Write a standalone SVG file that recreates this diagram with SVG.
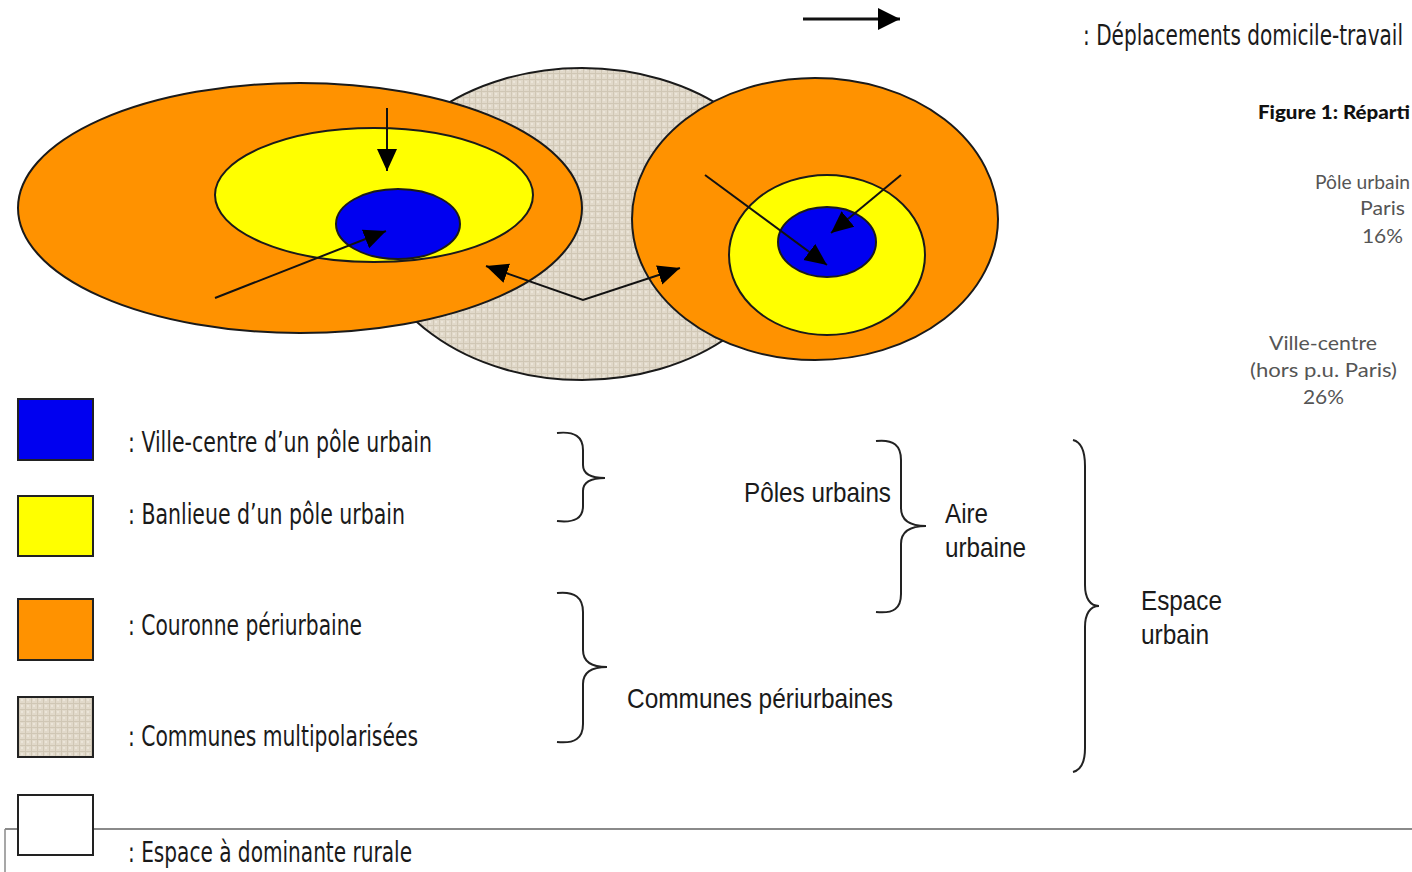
<svg xmlns="http://www.w3.org/2000/svg" width="1412" height="872" viewBox="0 0 1412 872">
<style>
.zone{stroke:#1a1a1a;stroke-width:2}
.or{fill:#ff9200}
.ye{fill:#ffff00}
.bl{fill:#0000f0}
.be{fill:url(#tex)}
.arr{fill:none;stroke:#111;stroke-width:2;marker-end:url(#ah)}
.brace{fill:none;stroke:#222;stroke-width:2}
.leg{font-family:"DejaVu Sans Condensed","Liberation Sans Narrow","DejaVu Sans",sans-serif;font-size:28px;fill:#1a1a1a}
.lab{font-family:"Liberation Sans",Arial,sans-serif;font-size:28px;fill:#1a1a1a}
.gr{font-family:Lato,"Open Sans",sans-serif;font-size:20px;fill:#555}
.box{stroke:#222;stroke-width:2}
</style>
<defs>
<pattern id="tex" width="6" height="6" patternUnits="userSpaceOnUse">
<rect width="6" height="6" fill="#e1d9ca"/>
<path d="M0,1.5H6M1.5,0V6" stroke="#d0c7b5" stroke-width="1"/>
<rect x="3" y="3" width="2" height="2" fill="#ebe5d9"/>
</pattern>
<marker id="ah" markerUnits="userSpaceOnUse" markerWidth="24" markerHeight="22" refX="22" refY="11" orient="auto-start-reverse">
<path d="M0,1 L22,11 L0,21 Z" fill="#000"/>
</marker>
<marker id="ahBig" markerUnits="userSpaceOnUse" markerWidth="24" markerHeight="24" refX="22" refY="12" orient="auto">
<path d="M0,1 L22,12 L0,23 Z" fill="#000"/>
</marker>
</defs>
<rect width="1412" height="872" fill="#fff"/>

<g id="commune-multipolarisee">
<ellipse class="zone be" cx="582" cy="224" rx="212" ry="156"/>
</g>
<g id="aire-gauche">
<ellipse class="zone or" cx="300" cy="208" rx="282" ry="125"/>
<ellipse class="zone ye" cx="374" cy="195" rx="159" ry="67"/>
<ellipse class="zone bl" cx="398" cy="224" rx="62" ry="35"/>
</g>
<g id="aire-droite">
<ellipse class="zone or" cx="815" cy="219" rx="183" ry="141"/>
<ellipse class="zone ye" cx="827" cy="255" rx="98" ry="80"/>
<ellipse class="zone bl" cx="827" cy="242" rx="49" ry="35"/>
</g>

<g id="connectors">
<line class="arr" x1="387" y1="108" x2="387" y2="171"/>
<line class="arr" x1="215" y1="298" x2="386" y2="231"/>
<polyline class="arr" style="marker-start:url(#ah)" points="486,266 583,300 680,268"/>
<line class="arr" x1="705" y1="175" x2="827" y2="265"/>
<line class="arr" x1="901" y1="175" x2="831" y2="233"/>
<line x1="803" y1="19" x2="900" y2="19" stroke="#111" stroke-width="3" marker-end="url(#ahBig)"/>
</g>

<g id="legende-fleche">
<text class="leg" x="1083" y="45" textLength="320" lengthAdjust="spacingAndGlyphs">: Déplacements domicile-travail</text>
</g>

<g id="figure-titre">
<text x="1258" y="119" font-family="Lato,'Open Sans',sans-serif" font-size="19" font-weight="900" fill="#111" textLength="152" lengthAdjust="spacingAndGlyphs">Figure 1: Réparti</text>
<text class="gr" x="1315" y="189" textLength="95" lengthAdjust="spacingAndGlyphs">Pôle urbain</text>
<text class="gr" x="1360" y="215" textLength="45" lengthAdjust="spacingAndGlyphs">Paris</text>
<text class="gr" x="1362" y="243" textLength="41" lengthAdjust="spacingAndGlyphs">16%</text>
<text class="gr" x="1269" y="350" textLength="108" lengthAdjust="spacingAndGlyphs">Ville-centre</text>
<text class="gr" x="1250" y="377" textLength="147" lengthAdjust="spacingAndGlyphs">(hors p.u. Paris)</text>
<text class="gr" x="1303" y="404" textLength="41" lengthAdjust="spacingAndGlyphs">26%</text>
</g>

<g id="legende-ville-centre">
<rect class="box bl" x="18" y="399" width="75" height="61"/>
<text class="leg" x="128" y="452" textLength="304" lengthAdjust="spacingAndGlyphs">: Ville-centre d’un pôle urbain</text>
</g>
<g id="legende-banlieue">
<rect class="box ye" x="18" y="496" width="75" height="60"/>
<text class="leg" x="128" y="524" textLength="277" lengthAdjust="spacingAndGlyphs">: Banlieue d’un pôle urbain</text>
</g>
<g id="legende-couronne">
<rect class="box or" x="18" y="599" width="75" height="61"/>
<text class="leg" x="128" y="635" textLength="234" lengthAdjust="spacingAndGlyphs">: Couronne périurbaine</text>
</g>
<g id="legende-multipolarisees">
<rect class="box be" x="18" y="697" width="75" height="60"/>
<text class="leg" x="128" y="746" textLength="290" lengthAdjust="spacingAndGlyphs">: Communes multipolarisées</text>
</g>
<g id="legende-rurale">
<line x1="5" y1="829" x2="1412" y2="829" stroke="#8a8a8a" stroke-width="2"/>
<line x1="5" y1="829" x2="5" y2="872" stroke="#8a8a8a" stroke-width="1.5"/>
<rect class="box" x="18" y="795" width="75" height="60" fill="#fff"/>
<text class="leg" x="128" y="862" textLength="284" lengthAdjust="spacingAndGlyphs">: Espace à dominante rurale</text>
</g>

<g id="accolade-poles">
<path class="brace" d="M557,433 C575,431 583,437 583,450 L583,465 C583,473 590,478 605,478 C590,478 583,483 583,491 L583,506 C583,518 575,523 557,521"/>
</g>
<g id="accolade-periurbaines">
<path class="brace" d="M557,593 C575,591 583,598 583,612 L583,650 C583,660 590,667 607,667 C590,667 583,674 583,684 L583,724 C583,738 575,744 557,742"/>
</g>
<g id="accolade-aire">
<path class="brace" d="M876,441 C894,439 901,446 901,460 L901,508 C901,519 908,526 926,526 C908,526 901,533 901,544 L901,594 C901,608 894,614 876,612"/>
</g>
<g id="accolade-espace">
<path class="brace" d="M1073,440 C1081,442 1085,450 1085,466 L1085,585 C1085,598 1090,606 1099,606 C1090,606 1085,614 1085,627 L1085,748 C1085,762 1081,770 1073,772"/>
</g>

<g id="label-poles">
<text class="lab" x="891" y="502" text-anchor="end" textLength="147" lengthAdjust="spacingAndGlyphs">Pôles urbains</text>
</g>
<g id="label-aire">
<text class="lab" x="945" y="523" textLength="43" lengthAdjust="spacingAndGlyphs">Aire</text>
<text class="lab" x="945" y="557" textLength="81" lengthAdjust="spacingAndGlyphs">urbaine</text>
</g>
<g id="label-communes">
<text class="lab" x="627" y="708" textLength="266" lengthAdjust="spacingAndGlyphs">Communes périurbaines</text>
</g>
<g id="label-espace">
<text class="lab" x="1141" y="610" textLength="81" lengthAdjust="spacingAndGlyphs">Espace</text>
<text class="lab" x="1141" y="644" textLength="68" lengthAdjust="spacingAndGlyphs">urbain</text>
</g>
</svg>
